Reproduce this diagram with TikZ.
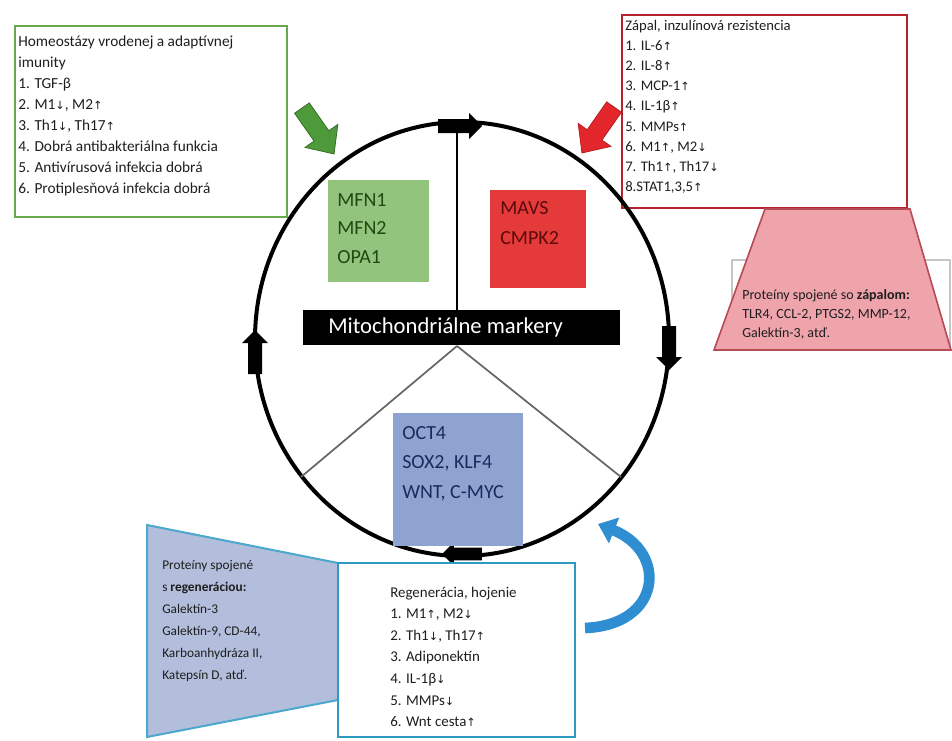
\documentclass[tikz,border=0pt]{standalone}
\usepackage{fontspec}
\setmainfont{Carlito}
\newfontfamily\arrowfont{DejaVu Sans}
\usetikzlibrary{arrows.meta}
\newcommand\upar{{\arrowfont\fontsize{8.5}{8.5}\selectfont ↑}}
\newcommand\dnar{{\arrowfont\fontsize{8.5}{8.5}\selectfont ↓}}
\definecolor{gborder}{HTML}{6AA84F}
\definecolor{garrow}{HTML}{4E9A3A}
\definecolor{mfnfill}{HTML}{93C47D}
\definecolor{mfntext}{HTML}{1E4A12}
\definecolor{rborder}{HTML}{B4232E}
\definecolor{rarrow}{HTML}{E3262B}
\definecolor{mavsfill}{HTML}{E53A3A}
\definecolor{mavstext}{HTML}{5C0A0A}
\definecolor{pinkfill}{HTML}{EFA3AB}
\definecolor{pinkedge}{HTML}{B64A55}
\definecolor{octfill}{HTML}{8EA3CF}
\definecolor{octtext}{HTML}{1B2B5C}
\definecolor{bluetrap}{HTML}{B2BEDB}
\definecolor{cyanedge}{HTML}{4BA8CC}
\definecolor{regedge}{HTML}{2E9AC4}
\definecolor{curvearrow}{HTML}{2F8ED2}
\definecolor{txtc}{HTML}{1E1E1E}
\tikzset{
  line/.style={anchor=base west, inner sep=0pt, text=txtc},
  bigline/.style={anchor=base west, inner sep=0pt, font=\fontsize{15}{15}\selectfont},
  bigarrow/.pic={\path[pic actions] (-28,-9)--(6,-9)--(6,-20)--(28,0)--(6,20)--(6,9)--(-28,9)--cycle;},
  ringarrow/.pic={\path[pic actions] (-22,-7)--(9,-7)--(9,-13)--(22,0)--(9,13)--(9,7)--(-22,7)--cycle;}
}
\begin{document}
\begin{tikzpicture}[x=0.75pt,y=-0.75pt]
\useasboundingbox (0,0) rectangle (952,740);

% ---------- green box (top left)
\draw[gborder, line width=1.8pt] (15,26) rectangle (287,217);
\foreach \t [count=\i] in {Homeostázy vrodenej a adaptívnej, imunity, 1. TGF-β, {2. M1\dnar, M2\upar}, {3. Th1\dnar, Th17\upar}, 4. Dobrá antibakteriálna funkcia, 5. Antivírusová infekcia dobrá, 6. Protiplesňová infekcia dobrá}
  \node[line, font=\fontsize{11.5}{12}\selectfont] (g\i) at ({18},{46+21*(\i-1)}) {\t};

% ---------- red box (top right)
\draw[rborder, line width=2pt] (622,15) rectangle (907,208);
\foreach \t [count=\i] in {{Zápal, inzulínová rezistencia}, 1. IL-6\upar, 2. IL-8\upar, 3. MCP-1\upar, 4. IL-1β\upar, 5. MMPs\upar, {6. M1\upar, M2\dnar}, {7. Th1\upar, Th17\dnar}, {8.STAT1,3,5\upar}}
  \node[line, font=\fontsize{11}{11}\selectfont] (r\i) at ({625},{30+20.2*(\i-1)}) {\t};

% ---------- pink trapezoid with grey frame behind
\draw[gray!45, line width=1pt] (732,350) -- (732,260) -- (950,260) -- (950,350);
\draw[pinkedge, fill=pinkfill, line width=1.2pt] (765,209) -- (910,209) -- (951,350) -- (714,350) -- cycle;
\foreach \t [count=\i] in {Proteíny spojené so \textbf{zápalom:}, {TLR4, CCL-2, PTGS2, MMP-12,}, {Galektín-3, atď.}}
  \node[line, font=\fontsize{10.5}{11}\selectfont] (p\i) at ({742},{299+19*(\i-1)}) {\t};

% ---------- big arrows toward the ring
\pic[fill=garrow, draw=garrow!70!black, line width=0.6pt, rotate=-55] at (318,131) {bigarrow};
\pic[fill=rarrow, draw=rarrow!80!black, line width=0.6pt, rotate=-125] at (598,130) {bigarrow};

% ---------- ring
\draw[black, line width=3pt] (462,339) ellipse [x radius=207, y radius=217];
\draw[black, line width=2pt] (457,124) -- (457,312);
\draw[gray!80!black, line width=1.3pt] (457,346) -- (301,477);
\draw[gray!80!black, line width=1.3pt] (457,346) -- (621,477);

% ring direction arrows
\pic[fill=black, rotate=0] at (460,126) {ringarrow};
\pic[fill=black, rotate=-90] at (669,348) {ringarrow};
\pic[fill=black, rotate=90] at (255,352) {ringarrow};
\pic[fill=black, rotate=180, scale=0.9] at (462,554) {ringarrow};

% ---------- inner boxes
\fill[mfnfill] (328,180) rectangle (429,282);
\foreach \t [count=\i] in {MFN1, MFN2, OPA1}
  \node[bigline, text=mfntext] (m\i) at ({337},{206+28.5*(\i-1)}) {\t};

\fill[mavsfill] (490,190) rectangle (586,288);
\foreach \t [count=\i] in {MAVS, CMPK2}
  \node[bigline, text=mavstext] (v\i) at ({500},{214+30*(\i-1)}) {\t};

\fill[black] (303,310) rectangle (620,345);
\node[anchor=base west, inner sep=0pt, text=white, font=\fontsize{17}{17}\selectfont] (bar) at (328,333) {Mitochondriálne markery};

\fill[octfill] (393,413) rectangle (523,546);
\foreach \t [count=\i] in {OCT4, {SOX2, KLF4}, {WNT, C-MYC}}
  \node[bigline, text=octtext] (o\i) at ({402},{439+29.5*(\i-1)}) {\t};

% ---------- blue trapezoid (bottom left)
\draw[cyanedge, fill=bluetrap, line width=1.5pt] (147,525) -- (338,563) -- (338,700) -- (147,737) -- cycle;
\foreach \t [count=\i] in {Proteíny spojené, s \textbf{regeneráciou:}, Galektín-3, {Galektín-9, CD-44,}, {Karboanhydráza II,}, {Katepsín D, atď.}}
  \node[line, font=\fontsize{10}{11}\selectfont] (b\i) at ({162},{569+22*(\i-1)}) {\t};

% ---------- regeneration box
\draw[regedge, line width=2pt, fill=white] (338,563) rectangle (575,737);
\foreach \t [count=\i] in {{Regenerácia, hojenie}, {1. M1\upar, M2\dnar}, {2. Th1\dnar, Th17\upar}, 3. Adiponektín, 4. IL-1β\dnar, 5. MMPs\dnar, 6. Wnt cesta\upar}
  \node[line, font=\fontsize{11.2}{12}\selectfont] (e\i) at ({390},{597+21.6*(\i-1)}) {\t};

% ---------- curved blue arrow
\draw[curvearrow, line width=8pt, -{Triangle[width=20pt,length=13pt]}] (585,628) .. controls (662,625) and (668,552) .. (598,524);
\end{tikzpicture}
\end{document}
